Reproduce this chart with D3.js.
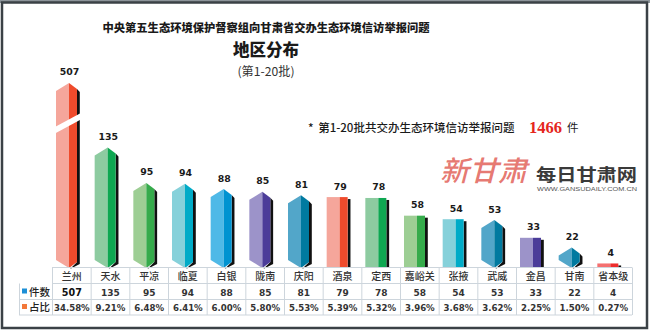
<!DOCTYPE html>
<html>
<head>
<meta charset="utf-8">
<script src="https://cdn.jsdelivr.net/npm/d3@7"></script>
<style>
  html, body { margin: 0; padding: 0; background: #fff; }
  svg { display: block; }
</style>
</head>
<body>
<svg id="chart" width="650" height="335"></svg>
<script>
// Regions and complaint counts (batches 1-20)
const regions = ["兰州", "天水", "平凉", "临夏", "白银", "陇南", "庆阳", "酒泉", "定西", "嘉峪关", "张掖", "武威", "金昌", "甘南", "省本级"];
const counts = [507, 135, 95, 94, 88, 85, 81, 79, 78, 58, 54, 53, 33, 22, 4];
const shares = ["34.58%", "9.21%", "6.48%", "6.41%", "6.00%", "5.80%", "5.53%", "5.39%", "5.32%", "3.96%", "3.68%", "3.62%", "2.25%", "1.50%", "0.27%"];
const total = 1466;
// bars with a pointed (prism) top
const pointed = [true, true, true, true, true, true, true, false, false, false, false, true, false, true, false];
const lightFace = ["#f5a69b", "#8dcba0", "#9dce94", "#86d1da", "#4fb9e7", "#9c93c9", "#52a6c9", "#f5a69b", "#8dcba0", "#9dce94", "#86d1da", "#52a6c9", "#9c93c9", "#52a6c9", "#f47070"];
const darkFace = ["#ef4b2c", "#0ea751", "#35ab4b", "#00abc7", "#0093d1", "#4b3c99", "#007aa0", "#ef4b2c", "#0ea751", "#35ab4b", "#00abc7", "#007aa0", "#4b3c99", "#007aa0", "#ee2c2c"];
// the tallest bar is drawn broken at this height
const breakCap = 208;

const svg = d3.select("#chart");
const cjk = "'Noto Sans CJK SC', 'Noto Sans', sans-serif";
const num = "'DejaVu Sans', Verdana, sans-serif";

// frame
svg.append("rect").attr("x", 0).attr("y", 0).attr("width", 650).attr("height", 3).attr("fill", "#8d949a");
svg.append("rect").attr("x", 2).attr("y", 2.5).attr("width", 645).attr("height", 325.5)
  .attr("fill", "none").attr("stroke", "#3b4146").attr("stroke-width", 2.5);

// titles
svg.append("text").attr("x", 266).attr("y", 32).attr("text-anchor", "middle")
  .attr("font-family", cjk).attr("font-weight", 900).attr("font-size", 11).attr("fill", "#1a1a1a")
  .attr("textLength", 327).attr("lengthAdjust", "spacingAndGlyphs")
  .text("中央第五生态环境保护督察组向甘肃省交办生态环境信访举报问题");
svg.append("text").attr("x", 266).attr("y", 55.5).attr("text-anchor", "middle")
  .attr("font-family", cjk).attr("font-weight", 900).attr("font-size", 16.5).attr("fill", "#1a1a1a")
  .text("地区分布");
svg.append("text").attr("x", 266).attr("y", 75.5).attr("text-anchor", "middle")
  .attr("font-family", cjk).attr("font-size", 12).attr("fill", "#333")
  .attr("textLength", 57).attr("lengthAdjust", "spacingAndGlyphs")
  .text("(第1-20批)");

// total note
const note = svg.append("text").attr("x", 308).attr("y", 131.5)
  .attr("font-family", cjk).attr("font-size", 11.5).attr("font-weight", 500).attr("fill", "#1a1a1a");
note.append("tspan").text("* ");
note.append("tspan").attr("dx", 2).text("第1-20批共交办生态环境信访举报问题");
svg.append("text").attr("x", 529).attr("y", 132.5)
  .attr("font-family", "'Liberation Serif', serif").attr("font-weight", 700).attr("font-size", 16)
  .attr("fill", "#e5261c").attr("textLength", 33).attr("lengthAdjust", "spacingAndGlyphs").text(total);
svg.append("text").attr("x", 567).attr("y", 131.5)
  .attr("font-family", cjk).attr("font-size", 11.5).attr("fill", "#1a1a1a").text("件");

// masthead
svg.append("text").attr("x", 440).attr("y", 181)
  .attr("font-family", "'Noto Sans CJK SC', serif").attr("font-weight", 500).attr("font-size", 28)
  .attr("font-style", "italic").attr("fill", "#e0554d").attr("fill-opacity", 0.8)
  .attr("textLength", 87).attr("lengthAdjust", "spacingAndGlyphs").text("新甘肃");
svg.append("text").attr("x", 536).attr("y", 180.5)
  .attr("font-family", cjk).attr("font-weight", 700).attr("font-size", 17.5).attr("fill", "#3a3a3a")
  .attr("textLength", 101).attr("lengthAdjust", "spacingAndGlyphs").text("每日甘肃网");
svg.append("text").attr("x", 537).attr("y", 191)
  .attr("font-family", "'Liberation Sans', Arial, sans-serif").attr("font-size", 6.2).attr("fill", "#555")
  .attr("textLength", 100).attr("lengthAdjust", "spacingAndGlyphs").text("WWW.GANSUDAILY.COM.CN");

// scales
const x = d3.scaleBand().domain(regions).range([52, 632]).paddingInner(0).paddingOuter(0);
const y = d3.scaleLinear().domain([0, 215]).range([267, 267 - 215 * 0.885]);

const lightW = 13, darkW = 8, shadowW = 2.8, roof = 8;

const bars = svg.append("g").attr("class", "bars");
regions.forEach((r, i) => {
  const v = Math.min(counts[i], breakCap);
  const x0 = x(r) + 4;
  const xm = x0 + lightW;
  const x1 = xm + darkW;
  const top = y(v);
  const base = y(0);
  const g = bars.append("g");
  if (pointed[i]) {
    const lShoulder = top + roof, rShoulder = top + roof - 2;
    const bTip = base + 1, lb = base - roof + 1, rb = base - roof + 3;
    // drop shadow
    g.append("path").attr("fill", "#111")
      .attr("d", `M${x1},${rShoulder} L${x1 + shadowW},${rShoulder + 3} L${x1 + shadowW},${rb + 2} L${xm + 1},${bTip + 1} L${x1},${rb} Z`);
    g.append("path").attr("fill", lightFace[i])
      .attr("d", `M${x0},${lShoulder} L${xm},${top} L${xm},${bTip} L${x0},${lb} Z`);
    g.append("path").attr("fill", darkFace[i])
      .attr("d", `M${xm},${top} L${x1},${rShoulder} L${x1},${rb} L${xm},${bTip} Z`);
  } else {
    g.append("rect").attr("x", x1).attr("y", top + 2).attr("width", shadowW).attr("height", base - top - 2).attr("fill", "#111");
    g.append("rect").attr("x", x0).attr("y", top).attr("width", lightW).attr("height", base - top).attr("fill", lightFace[i]);
    g.append("rect").attr("x", xm).attr("y", top).attr("width", darkW).attr("height", base - top).attr("fill", darkFace[i]);
  }
  if (counts[i] > breakCap) {
    // break mark on the truncated bar
    g.append("path").attr("fill", "#fff")
      .attr("d", `M${x0 - 2},${y(160) + 2} L${x1 + shadowW + 2},${y(160) - 13} L${x1 + shadowW + 2},${y(160) - 6.5} L${x0 - 2},${y(160) + 8.5} Z`);
  }
  // value label
  g.append("text").attr("x", xm + 0.5).attr("y", top - 7.5).attr("text-anchor", "middle")
    .attr("font-family", num).attr("font-weight", 700).attr("font-size", 9.4).attr("fill", "#1a1a1a")
    .text(counts[i]);
});

// data table
const rowTop = [267.5, 283.5, 299.5, 315];
const grid = "#cdd5dc";
const table = svg.append("g").attr("class", "table");
// horizontal rules
table.append("line").attr("x1", 52).attr("x2", 632).attr("y1", rowTop[0]).attr("y2", rowTop[0]).attr("stroke", grid);
[1, 2, 3].forEach(k => {
  table.append("line").attr("x1", k === 1 ? 52 : 19).attr("x2", 632)
    .attr("y1", rowTop[k]).attr("y2", rowTop[k]).attr("stroke", grid);
});
// vertical rules
x.domain().concat(["end"]).forEach(r => {
  const xx = r === "end" ? 632 : x(r);
  table.append("line").attr("x1", xx + 0.5).attr("x2", xx + 0.5)
    .attr("y1", rowTop[0]).attr("y2", rowTop[3]).attr("stroke", grid);
});
table.append("line").attr("x1", 19.5).attr("x2", 19.5).attr("y1", rowTop[1]).attr("y2", rowTop[3]).attr("stroke", grid);

regions.forEach((r, i) => {
  const cx = x(r) + x.bandwidth() / 2 + 0.5;
  table.append("text").attr("x", cx).attr("y", 280).attr("text-anchor", "middle")
    .attr("font-family", cjk).attr("font-size", 10).attr("font-weight", 500).attr("fill", "#333").text(r);
  table.append("text").attr("x", cx).attr("y", 295.5).attr("text-anchor", "middle")
    .attr("font-family", num).attr("font-weight", 700).attr("font-size", i === 0 ? 9.6 : 9)
    .attr("fill", i === 0 ? "#111" : "#333").text(counts[i]);
  table.append("text").attr("x", cx).attr("y", 311).attr("text-anchor", "middle")
    .attr("font-family", num).attr("font-weight", 700).attr("font-size", 8.6).attr("fill", "#333").text(shares[i]);
});

// row labels with legend swatches
[["件数", "#1d8fd6", 291.5], ["占比", "#f3783a", 307]].forEach(([label, c, cy]) => {
  table.append("rect").attr("x", 22).attr("y", cy - 3).attr("width", 5).attr("height", 5).attr("fill", c);
  table.append("text").attr("x", 29).attr("y", cy + 4).attr("font-family", cjk).attr("font-size", 10.5)
    .attr("font-weight", 500).attr("fill", "#222").text(label);
});
</script>
</body>
</html>
